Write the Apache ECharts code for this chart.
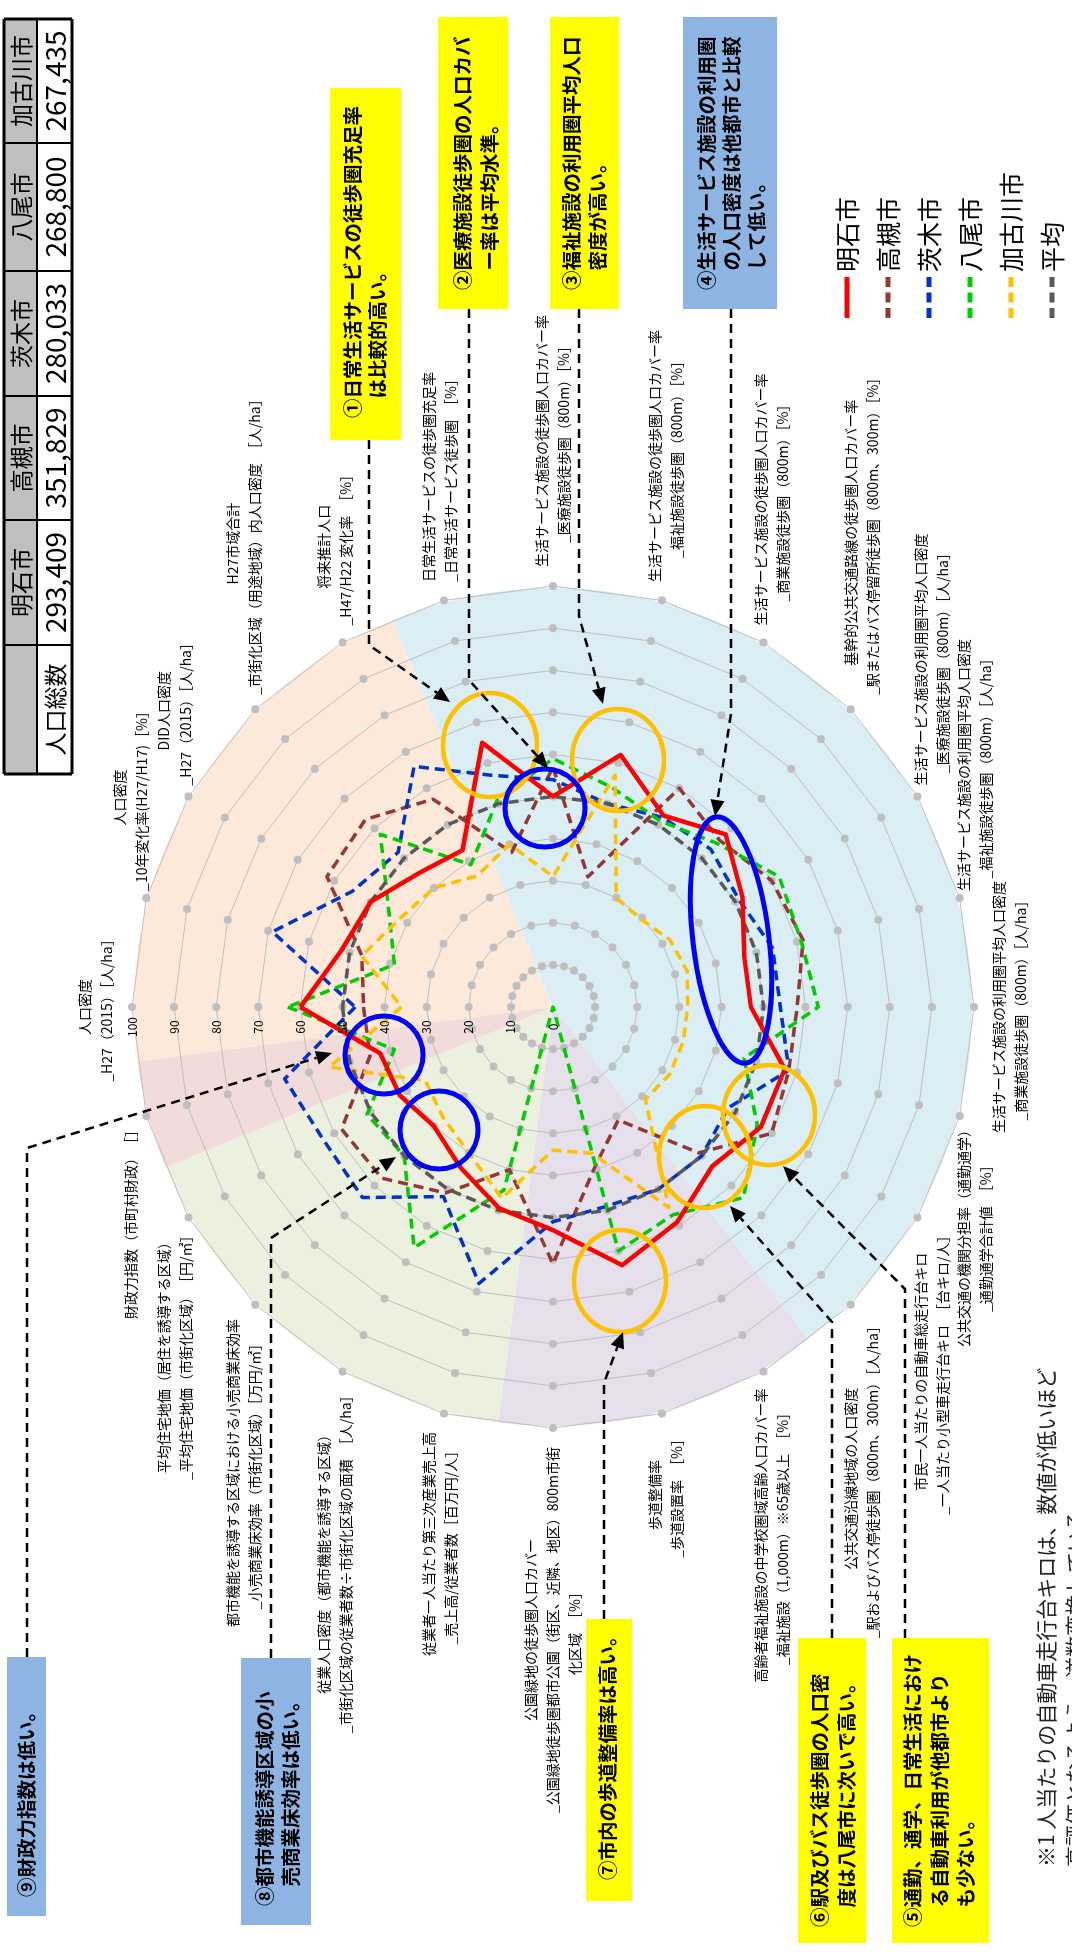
<!DOCTYPE html>
<html>
<head>
<meta charset="utf-8">
<script src="https://cdn.jsdelivr.net/npm/echarts@6/dist/echarts.min.js"></script>
<style>
html, body { margin: 0; padding: 0; width: 1072px; height: 1952px; overflow: hidden; background: #fff; }
/* the chart is laid out in landscape and turned a quarter to the left */
#chart { position: absolute; left: 0; top: 0; width: 1952px; height: 1072px;
  transform-origin: 0 0; transform: translateY(1952px) rotate(-90deg); }
</style>
</head>
<body>
<div id="chart"></div>
<script>
const FONT = '"Noto Sans CJK JP", "Noto Sans", sans-serif';

// axes, clockwise from the top
const axisNames = [
  '人口密度\n_H27（2015）［人/ha］',
  '人口密度\n_10年変化率(H27/H17)［%］',
  'DID人口密度\n_H27（2015）［人/ha］',
  'H27市域合計\n_市街化区域（用途地域）内人口密度　［人/ha］',
  '将来推計人口\n_H47/H22 変化率　［%］',
  '日常生活サービスの徒歩圏充足率\n_日常生活サービス徒歩圏　［%］',
  '生活サービス施設の徒歩圏人口カバー率\n_医療施設徒歩圏（800m）［%］',
  '生活サービス施設の徒歩圏人口カバー率\n_福祉施設徒歩圏（800m）［%］',
  '生活サービス施設の徒歩圏人口カバー率\n_商業施設徒歩圏（800m）［%］',
  '基幹的公共交通路線の徒歩圏人口カバー率\n_駅またはバス停留所徒歩圏（800m、300m）［%］',
  '生活サービス施設の利用圏平均人口密度\n_医療施設徒歩圏（800m）［人/ha］',
  '生活サービス施設の利用圏平均人口密度\n_福祉施設徒歩圏（800m）［人/ha］',
  '生活サービス施設の利用圏平均人口密度\n_商業施設徒歩圏（800m）［人/ha］',
  '公共交通の機関分担率（通勤通学）\n_通勤通学合計値　［%］',
  '市民一人当たりの自動車総走行台キロ\n_一人当たり小型車走行台キロ　［台キロ/人］',
  '公共交通沿線地域の人口密度\n_駅およびバス停徒歩圏（800m、300m）［人/ha］',
  '高齢者福祉施設の中学校圏域高齢人口カバー率\n_福祉施設（1,000m）※65歳以上　［%］',
  '歩道整備率\n_歩道設置率　［%］',
  '公園緑地の徒歩圏人口カバー\n_公園緑地徒歩圏都市公園（街区、近隣、地区）800m市街\n化区域　［%］',
  '従業者一人当たり第三次産業売上高\n_売上高/従業者数［百万円/人］',
  '従業人口密度（都市機能を誘導する区域）\n_市街化区域の従業者数÷市街化区域の面積　［人/ha］',
  '都市機能を誘導する区域における小売商業床効率\n_小売商業床効率（市街化区域）［万円/㎡］',
  '平均住宅地価（居住を誘導する区域）\n_平均住宅地価（市街化区域）　［円/㎡］',
  '財政力指数（市町村財政）　［］'
];

const cityNames = ['明石市', '高槻市', '茨木市', '八尾市', '加古川市', '平均'];
const akashi    = [60, 52, 50, 45, 43, 65, 50, 62, 52.5, 58, 52, 47, 47, 57, 57, 53.5, 59, 63.5, 53, 49.5, 44, 40, 42, 42.5];
const takatsuki = [45, 47, 62, 63, 57, 38, 57, 32, 60, 56, 60, 61.5, 58, 58, 60, 49, 31, 39, 61, 40, 51, 57.5, 58, 45];
const ibaraki   = [47, 69, 55, 52, 66, 57, 54, 50, 52, 53, 51, 54, 54, 58, 48, 50, 50, 49, 51, 68, 52, 64, 63, 66];
const yao       = [63, 39, 45, 58, 39, 51, 59, 54, 51, 55, 62, 61, 63, 47, 56, 64, 57, 60, 0, 45, 66, 50, 51, 39];
const kakogawa  = [36, 47, 42, 40, 36, 40, 31, 57, 30, 29.5, 32, 33, 32, 32, 32, 31, 55, 36, 34, 47, 40, 37, 35, 55];
const average   = [50, 50, 50, 50, 50, 50, 50, 50, 50, 50, 50, 50, 50, 50, 50, 50, 50, 50, 50, 50, 50, 50, 50, 50];

const ringValues = [10, 20, 30, 40, 50, 60, 70, 80, 90, 100];
const tickLabels = ['0', '10', '20', '30', '40', '50', '60', '70', '80', '90', '100'];

// background bands: how many axes each one covers, clockwise from the top axis
const bandNames  = ['人口', '生活サービス・公共交通', '安全・安心・健康', '地域経済', '財政'];
const bandAxes   = [5, 11, 3, 4, 1];
const bandColors = ['#FDE9D9', '#DAEEF3', '#E5E0EC', '#EBF1DE', '#F2DCDB'];

const tableCities = ['明石市', '高槻市', '茨木市', '八尾市', '加古川市'];
const tablePop    = ['293,409', '351,829', '280,033', '268,800', '267,435'];

const CX = 945, CY = 553, R = 421;

// echarts places indicators counter-clockwise, so feed them reversed
const order = [0];
for (let i = 23; i >= 1; i--) order.push(i);
const reorder = arr => order.map(i => arr[i]);

const chart = echarts.init(document.getElementById('chart'));

const ctx = document.createElement('canvas').getContext('2d');
function textWidth(s, size, weight) {
  ctx.font = (weight || 'normal') + ' ' + size + 'px ' + FONT;
  return ctx.measureText(s).width;
}

function txt(x, y, text, size, opt) {
  opt = opt || {};
  return {
    type: 'text', x: x, y: y, z: opt.z || 50, silent: true,
    style: {
      text: text, fill: opt.color || '#000',
      font: (opt.weight || 'normal') + ' ' + size + 'px ' + FONT,
      align: opt.align || 'left', textAlign: opt.align || 'left',
      verticalAlign: opt.valign || 'middle', textVerticalAlign: opt.valign || 'middle',
      lineHeight: opt.lineHeight || size * 1.3
    }
  };
}

const graphics = [];

// axis names: pushed sideways off the ring, or up/down for the two vertical axes
axisNames.forEach((name, k) => {
  const th = k * 15 * Math.PI / 180;
  const dx = Math.sin(th), dy = -Math.cos(th);
  const lines = name.split('\n');
  const w = Math.max.apply(null, lines.map(l => textWidth(l, 14)));
  const h = lines.length * 22;
  const ax = CX + dx * (R + 16), ay = CY + dy * (R + 16);
  let x = ax, y = ay;
  if (Math.abs(dx) < 0.05) y += dy * (h / 2 - 2);
  else x += Math.sign(dx) * (w / 2 + 3);
  graphics.push(txt(x, y, name, 14, { align: 'center', lineHeight: 22 }));
});

// tick labels along the top axis
tickLabels.forEach((t, i) => {
  graphics.push(txt(CX - 20, CY - R * i / 10, t, 12, { align: 'center', color: '#000' }));
});

// annotation ellipses
function ring(cx, cy, rx, ry, color, lw, rot) {
  return { type: 'ellipse', x: cx, y: cy, rotation: rot || 0, z: 90, silent: true,
    shape: { cx: 0, cy: 0, rx: rx, ry: ry },
    style: { fill: null, stroke: color, lineWidth: lw } };
}
const ORANGE = '#FFC000', BLUE = '#0000FF';
graphics.push(
  ring(1207, 490, 52, 47, ORANGE, 4.5),
  ring(1192, 618, 51, 46, ORANGE, 4.5),
  ring(837, 769, 50, 46, ORANGE, 4.5),
  ring(795, 705, 51, 46, ORANGE, 4.5),
  ring(671, 620, 51, 46, ORANGE, 4.5),
  ring(1144, 545, 39, 40, BLUE, 5),
  ring(897, 384, 39, 39, BLUE, 5),
  ring(822, 439, 39, 39, BLUE, 5),
  ring(1012, 731, 124, 38, BLUE, 5, 0.12)
);

// dashed leader arrows
function arrow(pts) {
  const n = pts.length;
  const x1 = pts[n - 2][0], y1 = pts[n - 2][1], x2 = pts[n - 1][0], y2 = pts[n - 1][1];
  const a = Math.atan2(y2 - y1, x2 - x1);
  const L = 16, W = 7;
  const bx = x2 - L * Math.cos(a), by = y2 - L * Math.sin(a);
  const line = pts.slice(0, n - 1).concat([[bx, by]]);
  graphics.push({ type: 'polyline', z: 95, silent: true, shape: { points: line },
    style: { stroke: '#000', lineWidth: 2.5, lineDash: [9, 6], fill: null } });
  graphics.push({ type: 'polygon', z: 95, silent: true,
    shape: { points: [[x2, y2], [bx - W * Math.sin(a), by + W * Math.cos(a)], [bx + W * Math.sin(a), by - W * Math.cos(a)]] },
    style: { fill: '#000' } });
}
arrow([[1512, 369], [1307, 369], [1250, 450]]);
arrow([[1643, 469], [1272, 469], [1184, 548]]);
arrow([[1643, 579], [1336, 579], [1248, 603]]);
arrow([[1643, 731], [1238, 731], [1136, 715]]);
arrow([[314, 905], [663, 905], [786, 783]]);
arrow([[314, 832], [630, 832], [746, 730]]);
arrow([[333, 604], [569, 604], [620, 623]]);
arrow([[294, 271], [714, 271], [795, 396]]);
arrow([[295, 27], [804, 27], [899, 332]]);

// callout boxes
function box(x1, y1, x2, y2, fill, lines, tx, ty, lh) {
  graphics.push({ type: 'rect', z: 60, silent: true, shape: { x: x1, y: y1, width: x2 - x1, height: y2 - y1 }, style: { fill: fill } });
  lines.forEach((l, i) => graphics.push(txt(tx, ty + i * lh, l, 19.5, { weight: 'bold', z: 61 })));
}
const YEL = '#FFFF00', SKY = '#8DB4E2';
box(1512, 330, 1864, 401, YEL, ['①日常生活サービスの徒歩圏充足率', '　は比較的高い。'], 1534, 353, 25);
box(1643, 438, 1935, 508, YEL, ['②医療施設徒歩圏の人口カバ', '　ー率は平均水準。'], 1662, 463, 27);
box(1643, 550, 1935, 619, YEL, ['③福祉施設の利用圏平均人口', '　密度が高い。'], 1662, 572, 26);
box(1643, 683, 1935, 777, SKY, ['④生活サービス施設の利用圏', '　の人口密度は他都市と比較', '　して低い。'], 1662, 707, 25);
box(36, 7, 295, 46, SKY, ['⑨財政力指数は低い。'], 55, 27, 25);
box(27, 241, 294, 311, SKY, ['⑧都市機能誘導区域の小', '　売商業床効率は低い。'], 46, 265, 26);
box(51, 586, 333, 632, YEL, ['⑦市内の歩道整備率は高い。'], 72, 608, 25);
box(9, 798, 314, 866, YEL, ['⑥駅及びバス徒歩圏の人口密', '　度は八尾市に次いで高い。'], 25, 820, 27);
box(9, 892, 314, 989, YEL, ['⑤通勤、通学、日常生活におけ', '　る自動車利用が他都市より', '　も少ない。'], 25, 913, 26.5);

// footnote
graphics.push(txt(85, 1046, '※1 人当たりの自動車走行台キロは、数値が低いほど', 21, { color: '#222' }));
graphics.push(txt(85, 1075, '高評価となるよう、逆数変換している。', 21, { color: '#222' }));

// population table
const colX = [1178, 1307, 1432, 1556, 1681, 1809, 1933];
const rowY = [4, 37, 72];
graphics.push({ type: 'rect', z: 60, silent: true, shape: { x: colX[0], y: rowY[0], width: colX[6] - colX[0], height: rowY[1] - rowY[0] }, style: { fill: '#BFBFBF' } });
graphics.push(txt((colX[0] + colX[1]) / 2, (rowY[1] + rowY[2]) / 2 + 1, '人口総数', 23, { align: 'center', z: 62 }));
tableCities.forEach((c, i) => {
  graphics.push(txt((colX[i + 1] + colX[i + 2]) / 2, (rowY[0] + rowY[1]) / 2 + 1, c, 23, { align: 'center', z: 62 }));
  graphics.push(txt((colX[i + 1] + colX[i + 2]) / 2, (rowY[1] + rowY[2]) / 2 + 1, tablePop[i], 28,
    { align: 'center', z: 62 }));
});
colX.forEach((x, i) => graphics.push({ type: 'line', z: 63, silent: true,
  shape: { x1: x, y1: rowY[0], x2: x, y2: rowY[2] },
  style: { stroke: '#000', lineWidth: (i === 0 || i === 6) ? 3 : 2 } }));
rowY.forEach((y, i) => graphics.push({ type: 'line', z: 63, silent: true,
  shape: { x1: colX[0], y1: y, x2: colX[6], y2: y },
  style: { stroke: '#000', lineWidth: i === 1 ? 2 : 3 } }));

const solidIcon = 'path://M0,0H41V5H0Z';
const dashIcon = 'path://M0,0H10V5H0Z M15.5,0H25.5V5H15.5Z M31,0H41V5H31Z';

const cityStyles = [
  { color: '#FF0000', width: 4.5, type: 'solid' },
  { color: '#953735', width: 3.5, type: [10, 6] },
  { color: '#0033CC', width: 3.5, type: [10, 6] },
  { color: '#00CC00', width: 3.5, type: [10, 6] },
  { color: '#FFC000', width: 3.5, type: [10, 6] },
  { color: '#595959', width: 3.5, type: [10, 6] }
];
const cityValues = [akashi, takatsuki, ibaraki, yao, kakogawa, average];

function citySeries(i) {
  const s = cityStyles[i];
  return {
    type: 'radar', name: cityNames[i], symbol: 'none', silent: true, z: 3,
    itemStyle: { color: s.color },
    lineStyle: { color: s.color, width: s.width, type: s.type },
    data: [{ name: cityNames[i], value: reorder(cityValues[i]) }]
  };
}

chart.setOption({
  animation: false,
  legend: {
    orient: 'vertical', left: 1634, top: 833, height: 238, padding: 0,
    itemWidth: 41, itemHeight: 5, itemGap: 13,
    selectedMode: false,
    textStyle: { fontSize: 25, fontFamily: FONT, color: '#000', lineHeight: 28 },
    data: cityNames.map((n, i) => ({ name: n, icon: i === 0 ? solidIcon : dashIcon }))
  },
  radar: {
    z: 1,
    center: [CX, CY], radius: R, startAngle: 90, splitNumber: 10, shape: 'polygon',
    indicator: reorder(axisNames).map(n => ({ name: n, min: 0, max: 100 })),
    axisName: { show: false },
    axisLine: { show: false }, axisTick: { show: false }, axisLabel: { show: false },
    splitLine: { lineStyle: { color: '#BFBFBF', width: 1 } },
    splitArea: { show: false }
  },
  series: [
    {
      type: 'pie', center: [CX, CY], radius: [0, R - 2], startAngle: 97.5, silent: true,
      label: { show: false }, labelLine: { show: false }, z: 0,
      itemStyle: { borderWidth: 0 },
      data: bandNames.map((n, i) => ({ name: n, value: bandAxes[i] * 15, itemStyle: { color: bandColors[i] } }))
    },
    {
      type: 'radar', silent: true, symbol: 'circle', symbolSize: 8, z: 2,
      itemStyle: { color: '#BFBFBF' }, lineStyle: { width: 0, opacity: 0 },
      data: ringValues.map(v => ({ value: order.map(() => v) }))
    },
    citySeries(1), citySeries(2), citySeries(3), citySeries(4), citySeries(5), citySeries(0)
  ],
  graphic: graphics
});
</script>
</body>
</html>
